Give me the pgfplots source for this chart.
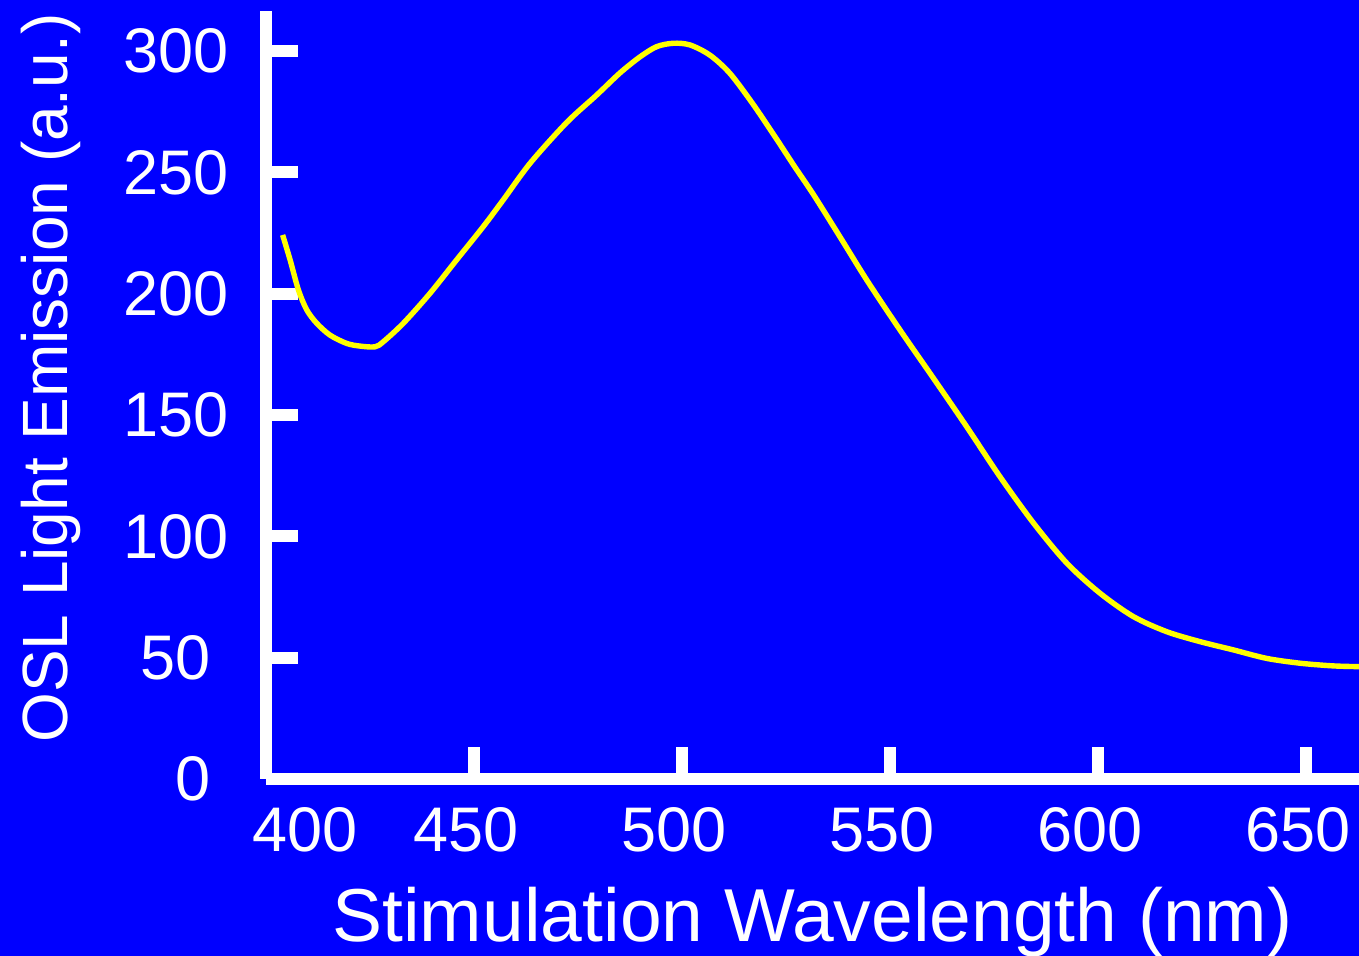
\documentclass[border=0pt]{standalone}
\usepackage{fontspec}
\setmainfont{Liberation Sans}
\usepackage{pgfplots}
\pgfplotsset{compat=1.18}
\definecolor{bgblue}{RGB}{0,0,255}
\definecolor{curveyellow}{RGB}{255,255,0}

\begin{document}
\begin{tikzpicture}
% background, 1px of the reference = 0.5pt
\path[use as bounding box, fill=bgblue] (-133pt,-88.5pt) rectangle (546.5pt,389.5pt);
\begin{axis}[
    at={(0,0)}, anchor=south west,
    scale only axis,
    width=546.5pt, height=384pt,
    xmin=400, xmax=662.7,
    ymin=0, ymax=316.5,
    axis x line*=bottom,
    axis y line*=left,
    axis line style={white, line width=6pt},
    tick style={white, line width=6pt},
    major tick length=16pt,
    tick align=inside,
    xtick={450,500,550,600,650},
    xticklabels={450,500,550,600,650},
    extra x ticks={400},
    extra x tick labels={400},
    extra x tick style={xticklabel style={xshift=23.5pt}},
    ytick={0,50,100,150,200,250,300},
    yticklabels={0\rule{9pt}{0pt},50\rule{9pt}{0pt},100,150,200,250,300},
    ticklabel style={font=\fontsize{31.5}{38}\selectfont, text=white, inner sep=0pt},
    xticklabel style={anchor=base, yshift=-36.5pt, xshift=-4pt},
    yticklabel style={anchor=east, xshift=-18.5pt},
    xlabel={Stimulation Wavelength (nm)},
    ylabel={OSL Light Emission (a.u.)},
    xlabel style={font=\fontsize{37.5}{44}\selectfont, text=white, inner sep=0pt,
        at={(axis description cs:0.5,-0.2122)}, anchor=base},
    ylabel style={font=\fontsize{32}{38}\selectfont, text=white, inner sep=0pt,
        at={(axis description cs:-0.182,0.522)}, anchor=base},
]
\addplot[curveyellow, line width=2.7pt, line join=round, smooth, tension=0.5] coordinates {
(404.0,224.2) (405.8,213.9) (407.8,201.5) (409.8,193.3) (412.2,187.8)
(415.4,182.9) (419.4,179.5) (422.6,178.4) (426.2,178.1) (428.2,180.2)
(433.0,187.8) (439.4,200.1) (445.8,213.9) (452.2,227.6) (457.0,238.6)
(463.5,253.8) (472.3,270.6) (479.5,281.9) (485.1,291.0) (489.9,297.6)
(493.9,301.8) (497.9,303.2) (501.9,302.5) (506.7,298.3) (511.5,290.8)
(517.1,278.0) (522.8,263.5) (527.0,252.5) (531.6,240.8) (538.0,223.3)
(544.4,205.6) (552.4,185.0) (560.4,165.2) (568.4,145.2) (576.4,124.6)
(584.5,105.4) (592.5,88.9) (600.5,76.5) (608.5,66.9) (616.5,60.7)
(624.5,56.6) (632.5,53.2) (640.5,49.7) (648.6,47.7) (656.6,46.6)
(662.7,46.3)
};
\end{axis}
\end{tikzpicture}
\end{document}
